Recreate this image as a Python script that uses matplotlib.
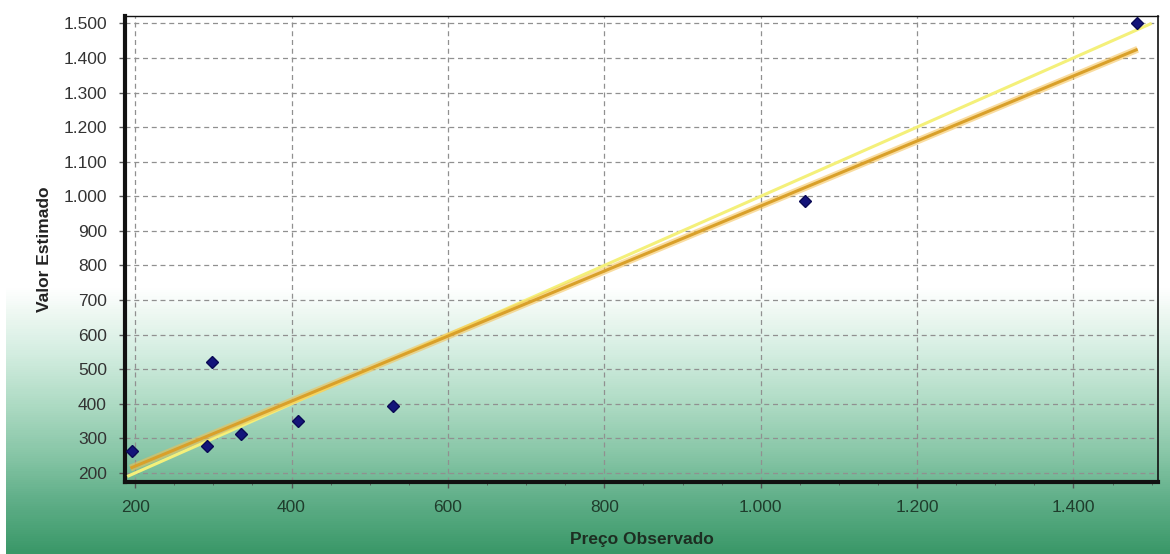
import numpy as np
import matplotlib
matplotlib.use('Agg')
import matplotlib.pyplot as plt
from matplotlib.colors import LinearSegmentedColormap
from matplotlib.ticker import FuncFormatter, MultipleLocator

plt.rcParams['font.family'] = ['Liberation Sans', 'DejaVu Sans']

# observed price vs estimated value
preco_observado = [196, 292, 298, 335, 408, 530, 1057, 1481]
valor_estimado = [263, 277, 522, 312, 350, 395, 985, 1500]

# fitted line and the y = x reference line (end points)
ajuste_x = [194, 1482]
ajuste_y = [214, 1425]
ideal_x = [190, 1500]
ideal_y = [190, 1500]

x_ticks = [200, 400, 600, 800, 1000, 1200, 1400]
y_ticks = [200, 300, 400, 500, 600, 700, 800, 900, 1000, 1100, 1200, 1300, 1400, 1500]


def milhar(v, pos):
    return f'{int(v):,}'.replace(',', '.')


fig = plt.figure(figsize=(11.7, 5.54), dpi=100)

# background gradient: white on top, green at the bottom
bg = fig.add_axes([0.005, 0, 0.995, 1], zorder=-10)
stops = [(0.0, '#3a9868'), (0.1, '#62b08a'), (0.17, '#84c4a4'),
         (0.27, '#aedbc4'), (0.36, '#d3ede0'), (0.44, '#f0f9f4'), (0.48, '#ffffff'), (1.0, '#ffffff')]
cmap = LinearSegmentedColormap.from_list('fundo', stops)
grad = np.linspace(0, 1, 554).reshape(-1, 1)
bg.imshow(grad, aspect='auto', cmap=cmap, origin='lower', extent=[0, 1, 0, 1])
bg.axis('off')

ax = fig.add_axes([0.1068, 0.130, 0.8829, 0.841])
ax.patch.set_alpha(0)

ax.plot(ideal_x, ideal_y, color='#f4f07a', lw=2.2, zorder=3, solid_capstyle='butt')
ax.plot(ajuste_x, ajuste_y, color='#f5c050', lw=5, alpha=0.55, zorder=3, solid_capstyle='butt')
ax.plot(ajuste_x, ajuste_y, color='#d9a02a', lw=2.2, zorder=4, solid_capstyle='butt')
ax.plot(preco_observado, valor_estimado, ls='none', marker='D', ms=6.5,
        color='#14147a', mec='#0a0a55', zorder=5)

ax.set_xlim(187, 1508)
ax.set_ylim(174, 1521)
ax.set_xticks(x_ticks)
ax.set_yticks(y_ticks)
ax.xaxis.set_minor_locator(MultipleLocator(50))
ax.xaxis.set_major_formatter(FuncFormatter(milhar))
ax.yaxis.set_major_formatter(FuncFormatter(milhar))

ax.grid(True, which='major', ls=(0, (4, 3)), color='#909090', lw=0.9)
ax.tick_params(axis='both', which='major', length=4, width=1, color='#555555',
               labelsize=12.5, labelcolor='#333333')
ax.tick_params(axis='x', which='major', pad=9)
ax.tick_params(axis='y', which='major', pad=9)
ax.tick_params(axis='x', which='minor', length=2, color='#555555')
for lbl in ax.get_xticklabels():
    lbl.set_color('#1f3d2c')

ax.spines['left'].set_linewidth(3)
ax.spines['bottom'].set_linewidth(3)
ax.spines['top'].set_linewidth(1)
ax.spines['right'].set_linewidth(1.2)
for s in ax.spines.values():
    s.set_color('#111111')

ax.set_xlabel('Preço Observado', fontsize=12.5, fontweight='bold', color='#1d2e22', labelpad=12)
ax.set_ylabel('Valor Estimado', fontsize=12.5, fontweight='bold', color='#222222', labelpad=8)

fig.savefig('out.png', dpi=100)
